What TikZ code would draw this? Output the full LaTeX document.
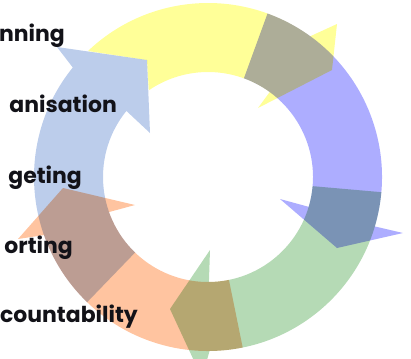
\documentclass[tikz,border=0pt]{standalone}
\usepackage{fontspec}
\newfontfamily\labfont{Poppins}
\definecolor{cyel}{HTML}{FFFF98}
\definecolor{cblu}{HTML}{ADADFF}
\definecolor{cgrn}{HTML}{B5DAB5}
\definecolor{cora}{HTML}{FFC4A0}
\definecolor{clbl}{HTML}{BCCDEB}
\definecolor{ctxt}{HTML}{121218}
\begin{document}
\begin{tikzpicture}[x=1bp,y=1bp,
  seg/.style={blend mode=multiply},
  lab/.style={inner sep=0pt, anchor=base east, text=ctxt, font=\labfont\bfseries\fontsize{22}{26}\selectfont}]
\useasboundingbox (0,0) rectangle (411,-359);
\clip (0,0) rectangle (411,-359);
\begin{scope}[shift={(208,-177)}]
% yellow (top)
\fill[seg, cyel] (133.6:174) arc[start angle=133.6, end angle=54, radius=174]
  -- (129,153) -- (124,107) -- (50,69) -- (54:105)
  arc[start angle=54, end angle=124.3, radius=105] -- (-61,117) -- cycle;
% blue (right)
\fill[seg, cblu] (70:105) -- (70:174) arc[start angle=70, end angle=-16.5, radius=174]
  -- (195,-56) -- (129,-71) -- (72,-22) -- (-16.5:105)
  arc[start angle=-16.5, end angle=70, radius=105] -- cycle;
% green (bottom right)
\fill[seg, cgrn] (-5:105) -- (-5:174) arc[start angle=-5, end angle=-89.5, radius=174]
  -- (-6,-201) -- (-38,-132) -- (2,-73) -- (-89.5:105)
  arc[start angle=-89.5, end angle=-5, radius=105] -- cycle;
% orange (bottom left)
\fill[seg, cora] (-78.5:105) -- (-78.5:174) arc[start angle=-78.5, end angle=-160.5, radius=174]
  -- (-190,-62) -- (-145,-11) -- (-73,-28) -- (-160.5:105)
  arc[start angle=-160.5, end angle=-78.5, radius=105] -- cycle;
% light blue (left)
\fill[seg, clbl] (-134:105) -- (-134:174) arc[start angle=-134, end angle=-219, radius=174]
  -- (-151,130) -- (-61,117) -- (-58,44) -- (-219:105)
  arc[start angle=-219, end angle=-134, radius=105] -- cycle;
\end{scope}
\node[lab] (t1) at (65,-41) {nning};
\node[lab] (t2) at (117,-112) {anisation};
\node[lab] (t3) at (82,-183) {geting};
\node[lab] (t4) at (73,-253) {orting};
\node[lab] (t5) at (138,-322) {countability};
\end{tikzpicture}
\end{document}
